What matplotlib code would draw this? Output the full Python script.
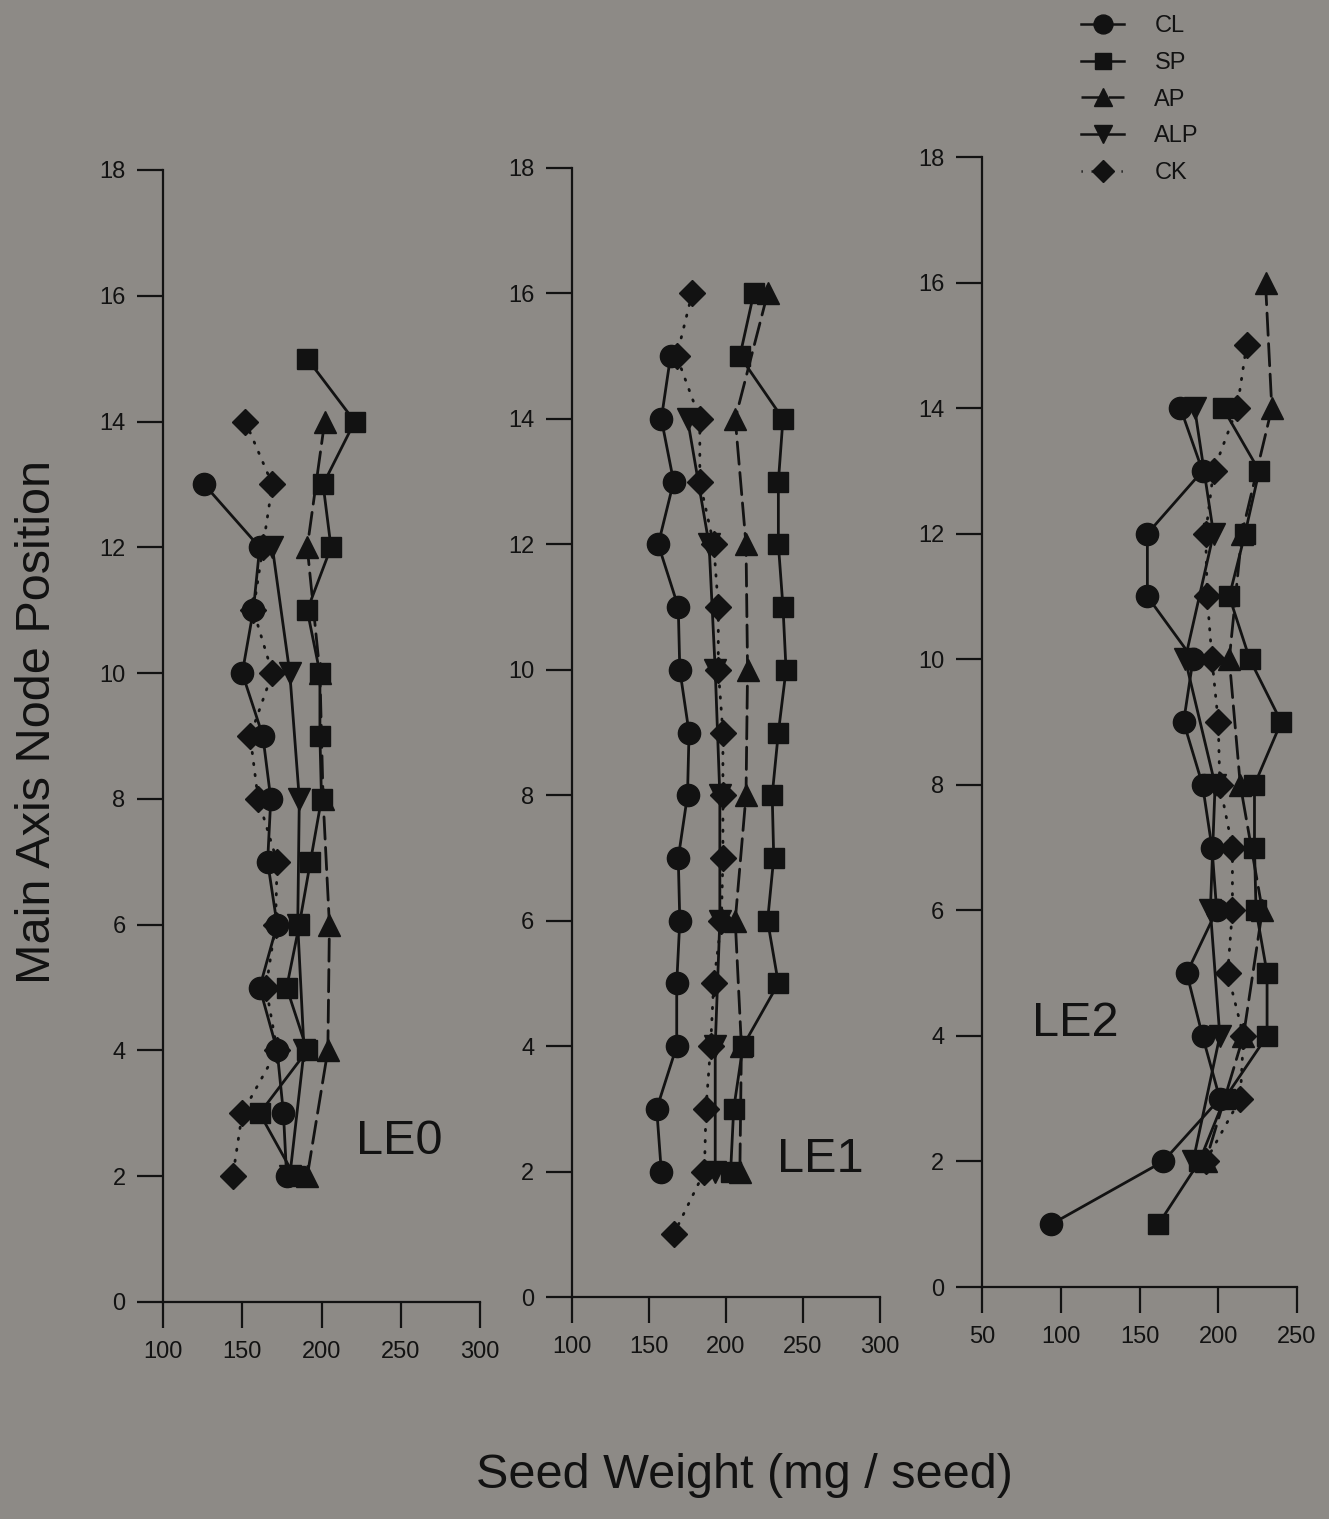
import matplotlib
matplotlib.use("Agg")
import matplotlib.pyplot as plt
from matplotlib.lines import Line2D

plt.rcParams['font.family'] = ['Liberation Sans', 'DejaVu Sans']

# ---- data: seed weight (mg/seed) by main axis node position ----
# LE0
LE0_CL_NODE = [13, 12, 11, 10, 9, 8, 7, 6, 5, 4, 3, 2]
LE0_CL_WT = [126, 161, 157, 150, 163, 168, 166, 172, 161, 172, 176, 178]
LE0_SP_NODE = [15, 14, 13, 12, 11, 10, 9, 8, 7, 6, 5, 4, 3, 2]
LE0_SP_WT = [191, 221, 201, 206, 191, 199, 199, 200, 193, 186, 178, 191, 161, 183]
LE0_AP_NODE = [14, 12, 10, 8, 6, 4, 2]
LE0_AP_WT = [202, 191, 199, 201, 205, 204, 191]
LE0_ALP_NODE = [12, 10, 8, 6, 4, 2]
LE0_ALP_WT = [169, 180, 186, 185, 189, 180]
LE0_CK_NODE = [14, 13, 12, 11, 10, 9, 8, 7, 6, 5, 4, 3, 2]
LE0_CK_WT = [152, 169, 163, 157, 169, 155, 160, 172, 171, 165, 172, 150, 144]

# LE1
LE1_CL_NODE = [15, 14, 13, 12, 11, 10, 9, 8, 7, 6, 5, 4, 3, 2]
LE1_CL_WT = [164, 158, 166, 156, 169, 170, 176, 175, 169, 170, 168, 168, 155, 158]
LE1_SP_NODE = [16, 15, 14, 13, 12, 11, 10, 9, 8, 7, 6, 5, 4, 3, 2]
LE1_SP_WT = [218, 209, 237, 234, 234, 237, 239, 234, 230, 231, 227, 234, 211, 205, 203]
LE1_AP_NODE = [16, 14, 12, 10, 8, 6, 4, 2]
LE1_AP_WT = [227, 206, 213, 214, 213, 206, 210, 209]
LE1_ALP_NODE = [14, 12, 10, 8, 6, 4, 2]
LE1_ALP_WT = [175, 189, 193, 196, 196, 193, 193]
LE1_CK_NODE = [16, 15, 14, 13, 12, 11, 10, 9, 8, 7, 6, 5, 4, 3, 2, 1]
LE1_CK_WT = [178, 168, 183, 183, 192, 195, 195, 198, 198, 198, 197, 192, 190, 187, 186, 166]

# LE2
LE2_CL_NODE = [14, 13, 12, 11, 10, 9, 8, 7, 6, 5, 4, 3, 2, 1]
LE2_CL_WT = [176, 190, 155, 155, 184, 178, 190, 196, 199, 180, 190, 201, 165, 94]
LE2_SP_NODE = [14, 13, 12, 11, 10, 9, 8, 7, 6, 5, 4, 3, 2, 1]
LE2_SP_WT = [203, 226, 217, 207, 220, 240, 223, 223, 224, 231, 231, 204, 188, 162]
LE2_AP_NODE = [16, 14, 12, 10, 8, 6, 4, 2]
LE2_AP_WT = [230, 234, 215, 207, 214, 228, 216, 192]
LE2_ALP_NODE = [14, 12, 10, 8, 6, 4, 2]
LE2_ALP_WT = [185, 197, 179, 198, 195, 201, 184]
LE2_CK_NODE = [15, 14, 13, 12, 11, 10, 9, 8, 7, 6, 5, 4, 3, 2]
LE2_CK_WT = [218, 212, 197, 192, 193, 196, 200, 201, 209, 209, 206, 216, 214, 192]

TREATMENTS = ['CL', 'SP', 'AP', 'ALP', 'CK']
PANEL_NAMES = ['LE0', 'LE1', 'LE2']
X_TICKS = [[100, 150, 200, 250, 300], [100, 150, 200, 250, 300], [50, 100, 150, 200, 250]]
Y_TICKS = [0, 2, 4, 6, 8, 10, 12, 14, 16, 18]

BG = '#8d8a86'
INK = '#121212'

styles = {
    'CL': dict(marker='o', markersize=16, linestyle='-'),
    'SP': dict(marker='s', markersize=14, linestyle='-'),
    'AP': dict(marker='^', markersize=16, linestyle=(0, (8, 3))),
    'ALP': dict(marker='v', markersize=16, linestyle='-'),
    'CK': dict(marker='D', markersize=13, linestyle=(0, (0.5, 3.5))),
}

panel_data = [
    {'CL': (LE0_CL_NODE, LE0_CL_WT), 'SP': (LE0_SP_NODE, LE0_SP_WT), 'AP': (LE0_AP_NODE, LE0_AP_WT),
     'ALP': (LE0_ALP_NODE, LE0_ALP_WT), 'CK': (LE0_CK_NODE, LE0_CK_WT)},
    {'CL': (LE1_CL_NODE, LE1_CL_WT), 'SP': (LE1_SP_NODE, LE1_SP_WT), 'AP': (LE1_AP_NODE, LE1_AP_WT),
     'ALP': (LE1_ALP_NODE, LE1_ALP_WT), 'CK': (LE1_CK_NODE, LE1_CK_WT)},
    {'CL': (LE2_CL_NODE, LE2_CL_WT), 'SP': (LE2_SP_NODE, LE2_SP_WT), 'AP': (LE2_AP_NODE, LE2_AP_WT),
     'ALP': (LE2_ALP_NODE, LE2_ALP_WT), 'CK': (LE2_CK_NODE, LE2_CK_WT)},
]

W, H = 1329, 1519
fig = plt.figure(figsize=(W / 100, H / 100), dpi=100, facecolor=BG)

# axes boxes in pixels: (x_left, x_right, y_zero, y_top)
boxes = [(163, 480, 1302, 170), (572, 880, 1297, 168), (982, 1297, 1287, 157)]
label_pos = [(222, 2.55), (233, 2.2), (82, 4.2)]

for i, (x0, x1, yb, yt) in enumerate(boxes):
    ax = fig.add_axes([x0 / W, 1 - yb / H, (x1 - x0) / W, (yb - yt) / H])
    ax.set_facecolor('none')
    xt = X_TICKS[i]
    ax.set_xlim(xt[0], xt[-1])
    ax.set_ylim(0, 18)
    for t in TREATMENTS:
        node, wt = panel_data[i][t]
        st = styles[t]
        ax.plot(wt, node, color=INK, linewidth=2.0, marker=st['marker'],
                markersize=st['markersize'], linestyle=st['linestyle'],
                dash_capstyle='round', markerfacecolor=INK, markeredgecolor=INK,
                clip_on=False)
    ax.set_xticks(xt)
    ax.set_yticks(Y_TICKS)
    for s in ['top', 'right']:
        ax.spines[s].set_visible(False)
    for s in ['left', 'bottom']:
        ax.spines[s].set_linewidth(1.6)
        ax.spines[s].set_color(INK)
    ax.tick_params(direction='out', length=19, width=1.6, colors=INK, labelsize=17)
    ax.tick_params(axis='x', pad=9)
    ax.tick_params(axis='y', pad=8)
    ax.text(label_pos[i][0], label_pos[i][1], PANEL_NAMES[i], fontsize=35,
            color=INK, va='center', ha='left')

fig.text(38 / W, 1 - 722 / H, 'Main Axis Node Position', rotation=90, fontsize=35,
         color=INK, ha='center', va='center')
fig.text(744 / W, 1 - 1475 / H, 'Seed Weight (mg / seed)', fontsize=35,
         color=INK, ha='center', va='center')

handles = []
for t in TREATMENTS:
    st = styles[t]
    handles.append(Line2D([], [], color=INK, linewidth=1.8, marker=st['marker'],
                          markersize=st['markersize'] * 0.85, linestyle=st['linestyle'],
                          markerfacecolor=INK, markeredgecolor=INK))
fig.legend(handles, TREATMENTS, loc='upper left', bbox_to_anchor=(1060 / W, 1 + 6 / H),
           frameon=False, fontsize=17, handlelength=1.8, handletextpad=1.3,
           labelspacing=0.62, labelcolor=INK)

fig.savefig('out.png', dpi=100, facecolor=BG)
